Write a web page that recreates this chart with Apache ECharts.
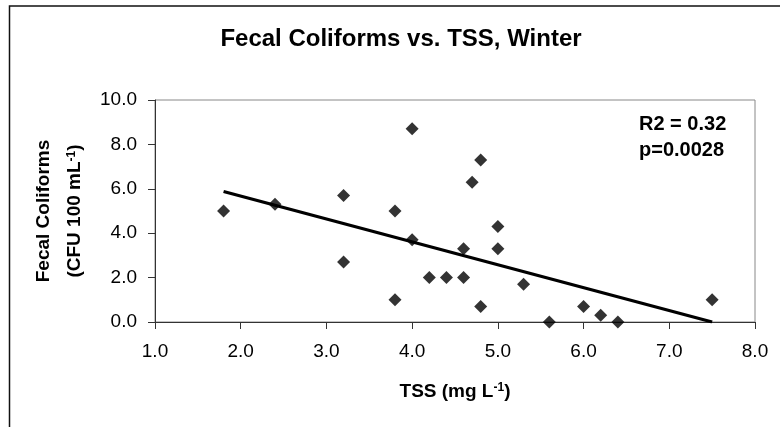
<!DOCTYPE html>
<html>
<head>
<meta charset="utf-8">
<script src="https://cdn.jsdelivr.net/npm/echarts@6/dist/echarts.min.js"></script>
<style>
  html, body { margin: 0; padding: 0; background: #fff; }
  #main { width: 780px; height: 427px; }
</style>
</head>
<body>
<div id="main"></div>
<script>
// TSS (mg/L) vs fecal coliforms, winter samples
var tss = [1.8, 2.4, 3.2, 3.2, 3.8, 3.8, 4.0, 4.0, 4.2, 4.4, 4.6, 4.6, 4.7, 4.8, 4.8, 5.0, 5.0, 5.3, 5.6, 6.0, 6.2, 6.4, 7.5];
var coliforms = [5.0, 5.3, 5.7, 2.7, 5.0, 1.0, 8.7, 3.7, 2.0, 2.0, 2.0, 3.3, 6.3, 7.3, 0.7, 4.3, 3.3, 1.7, 0.0, 0.7, 0.3, 0.0, 1.0];
// trend line ends
var trendX = [1.8, 7.5];
var trendY = [5.88, 0.0];
var stats = ['R2 = 0.32', 'p=0.0028'];

var FONT = '"Liberation Sans", Arial, sans-serif';

var points = tss.map(function (x, i) { return [x, coliforms[i]]; });
var trend = trendX.map(function (x, i) { return [x, trendY[i]]; });

var supStyle = { fontFamily: FONT, fontSize: 12, fontWeight: 'bold', fill: '#000', color: '#000', verticalAlign: 'top' };

var myChart = echarts.init(document.getElementById('main'));
var option = {
    animation: false,
    backgroundColor: '#fff',
    title: {
        text: 'Fecal Coliforms vs. TSS, Winter',
        left: 396,
        top: 22,
        textAlign: 'center',
        textStyle: { fontFamily: FONT, fontSize: 24, fontWeight: 'bold', color: '#000' }
    },
    grid: {
        left: 155, right: 25, top: 100, bottom: 105,
        show: true, borderColor: '#888', borderWidth: 1
    },
    xAxis: {
        type: 'value', min: 1, max: 8, interval: 1,
        name: 'TSS (mg L{sup|-1})',
        nameLocation: 'middle',
        nameGap: 60,
        nameTextStyle: {
            fontFamily: FONT, fontSize: 19, fontWeight: 'bold', color: '#000',
            rich: { sup: supStyle }
        },
        axisLine: { show: true, lineStyle: { color: '#333', width: 1 } },
        axisTick: { show: true, inside: false, length: 7, lineStyle: { color: '#333' } },
        axisLabel: {
            margin: 20, fontFamily: FONT, fontSize: 19, color: '#000',
            formatter: function (v) { return v.toFixed(1); }
        },
        splitLine: { show: false }
    },
    yAxis: {
        type: 'value', min: 0, max: 10, interval: 2,
        axisLine: { show: true, lineStyle: { color: '#333', width: 1 } },
        axisTick: { show: true, inside: false, length: 7, lineStyle: { color: '#333' } },
        axisLabel: {
            margin: 18, fontFamily: FONT, fontSize: 19, color: '#000',
            formatter: function (v) { return v.toFixed(1); }
        },
        splitLine: { show: false }
    },
    series: [
        {
            name: 'samples',
            type: 'scatter',
            symbol: 'diamond',
            symbolSize: [13, 13],
            itemStyle: { color: '#000' },
            data: points,
            z: 3
        },
        {
            name: 'trend',
            type: 'line',
            symbol: 'none',
            lineStyle: { color: '#000', width: 3.2 },
            data: trend,
            z: 2
        }
    ],
    graphic: [
        {
            type: 'rect',
            shape: { x: 9.5, y: 6, width: 900, height: 600 },
            style: { fill: 'none', stroke: '#111', lineWidth: 1.5 },
            silent: true
        },
        // y axis title, two rotated lines
        {
            type: 'text', x: 44, y: 211, rotation: Math.PI / 2,
            style: {
                text: 'Fecal Coliforms', font: 'bold 19px ' + FONT, fill: '#000',
                align: 'center', verticalAlign: 'middle'
            }
        },
        {
            type: 'text', x: 75, y: 211, rotation: Math.PI / 2,
            style: {
                text: '(CFU 100 mL{sup|-1})', font: 'bold 19px ' + FONT, fill: '#000',
                align: 'center', verticalAlign: 'middle',
                rich: { sup: supStyle }
            }
        },
        {
            type: 'text', left: 639, top: 114,
            style: { text: stats[0], font: 'bold 20px ' + FONT, fill: '#000' }
        },
        {
            type: 'text', left: 639, top: 140,
            style: { text: stats[1], font: 'bold 20px ' + FONT, fill: '#000' }
        }
    ]
};
myChart.setOption(option);
</script>
</body>
</html>
